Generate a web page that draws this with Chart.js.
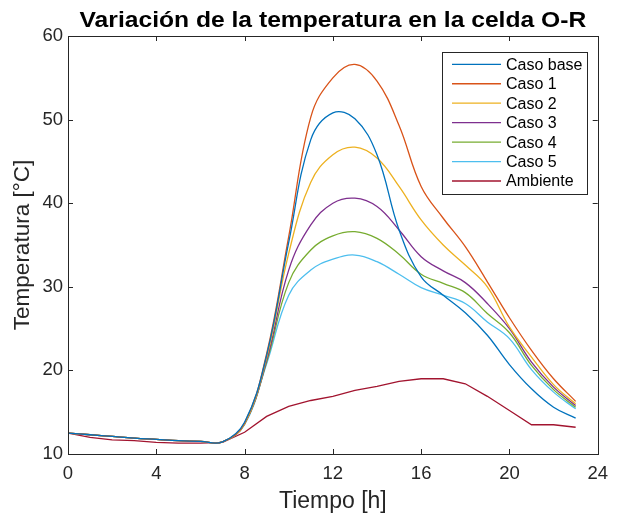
<!DOCTYPE html>
<html>
<head>
<meta charset="utf-8">
<title>Variación de la temperatura en la celda O-R</title>
<script src="https://cdn.jsdelivr.net/npm/chart.js@4.4.1/dist/chart.umd.min.js"></script>
<style>
  html, body { margin: 0; padding: 0; background: #fff; }
</style>
</head>
<body>
<canvas id="tempChart" width="617" height="520"></canvas>
<script>
// hourly temperatures [°C]
const hours = [0, 1, 2, 3, 4, 5, 6, 7, 8, 9, 10, 11, 12, 13, 14, 15, 16, 17, 18, 19, 20, 21, 22, 23];

const casoBase = [12.5, 12.3, 12.1, 11.9, 11.75, 11.6, 11.5, 11.45, 13.8, 21.8, 35.3, 47.6, 50.8, 50.1, 45.8, 36.8, 31.2, 29.0, 26.9, 24.2, 20.7, 17.8, 15.6, 14.3];
const caso1 = [12.5, 12.3, 12.1, 11.9, 11.75, 11.6, 11.5, 11.45, 13.7, 22.0, 36.0, 50.3, 55.0, 56.6, 54.6, 49.3, 42.0, 38.2, 34.8, 30.6, 26.3, 22.4, 19.0, 16.3];
const caso2 = [12.5, 12.3, 12.1, 11.9, 11.75, 11.6, 11.5, 11.45, 13.6, 21.5, 34.0, 42.5, 45.8, 46.7, 45.4, 42.0, 38.0, 35.0, 32.6, 30.0, 25.2, 21.6, 18.3, 16.0];
const caso3 = [12.5, 12.3, 12.1, 11.9, 11.75, 11.6, 11.5, 11.45, 13.6, 21.2, 32.0, 37.4, 40.0, 40.6, 39.6, 36.8, 33.6, 31.9, 30.5, 28.0, 25.0, 21.0, 18.0, 15.8];
const caso4 = [12.5, 12.3, 12.1, 11.9, 11.75, 11.6, 11.5, 11.45, 13.6, 21.0, 30.5, 34.4, 36.1, 36.6, 35.8, 33.9, 31.5, 30.4, 29.3, 26.8, 24.5, 20.6, 17.7, 15.6];
const caso5 = [12.5, 12.3, 12.1, 11.9, 11.75, 11.6, 11.5, 11.45, 13.5, 20.8, 29.0, 32.0, 33.3, 33.8, 33.0, 31.5, 29.9, 29.0, 28.0, 25.8, 23.8, 20.1, 17.4, 15.4];
const ambiente = [12.5, 12.0, 11.7, 11.6, 11.4, 11.3, 11.3, 11.4, 12.6, 14.5, 15.7, 16.4, 16.9, 17.6, 18.1, 18.7, 19.0, 19.0, 18.4, 16.9, 15.2, 13.5, 13.5, 13.2];

const seriesNames = ["Caso base", "Caso 1", "Caso 2", "Caso 3", "Caso 4", "Caso 5", "Ambiente"];
const seriesData = [casoBase, caso1, caso2, caso3, caso4, caso5, ambiente];
const seriesColors = ["#0072BD", "#D95319", "#EDB120", "#7E2F8E", "#77AC30", "#4DBEEE", "#A2142F"];

const xTicks = [0, 4, 8, 12, 16, 20, 24];
const yTicks = [10, 20, 30, 40, 50, 60];

const titleText = "Variación de la temperatura en la celda O-R";
const axisColor = "#262626";
const fontFamily = "'Liberation Sans', Arial, Helvetica, sans-serif";

// title, axes box with inward ticks on all four sides, and the legend box
const boxPlugin = {
  id: "boxPlugin",
  afterDraw(chart) {
    const { ctx, chartArea: a, scales } = chart;
    const tick = 5;
    ctx.save();

    ctx.fillStyle = "#000";
    ctx.font = "bold 22px " + fontFamily;
    ctx.textAlign = "center";
    ctx.textBaseline = "alphabetic";
    ctx.save();
    ctx.translate((a.left + a.right) / 2, 27);
    ctx.scale(1.12, 1);
    ctx.fillText(titleText, 0, 0);
    ctx.restore();

    ctx.strokeStyle = axisColor;
    ctx.lineWidth = 1;
    ctx.strokeRect(Math.round(a.left) + 0.5, Math.round(a.top) + 0.5,
      Math.round(a.right - a.left), Math.round(a.bottom - a.top));
    ctx.beginPath();
    xTicks.forEach((v) => {
      const x = Math.round(scales.x.getPixelForValue(v)) + 0.5;
      ctx.moveTo(x, a.bottom); ctx.lineTo(x, a.bottom - tick);
      ctx.moveTo(x, a.top); ctx.lineTo(x, a.top + tick);
    });
    yTicks.forEach((v) => {
      const y = Math.round(scales.y.getPixelForValue(v)) + 0.5;
      ctx.moveTo(a.left, y); ctx.lineTo(a.left + tick, y);
      ctx.moveTo(a.right, y); ctx.lineTo(a.right - tick, y);
    });
    ctx.stroke();

    // legend
    const lx = 442.5, ly = 52.5, lw = 145, lh = 142;
    ctx.fillStyle = "#fff";
    ctx.fillRect(lx, ly, lw, lh);
    ctx.strokeStyle = axisColor;
    ctx.strokeRect(lx, ly, lw, lh);
    ctx.font = "16px " + fontFamily;
    ctx.textAlign = "left";
    ctx.textBaseline = "middle";
    chart.data.datasets.forEach((ds, i) => {
      const y = 64.3 + i * 19.45;
      ctx.strokeStyle = ds.borderColor;
      ctx.lineWidth = 1.3;
      ctx.beginPath();
      ctx.moveTo(452, y); ctx.lineTo(501, y);
      ctx.stroke();
      ctx.fillStyle = "#000";
      ctx.fillText(ds.label, 506, y + 1);
    });
    ctx.restore();
  }
};

new Chart(document.getElementById("tempChart").getContext("2d"), {
  type: "line",
  data: {
    labels: hours,
    datasets: seriesNames.map((name, i) => ({
      label: name,
      data: seriesData[i],
      borderColor: seriesColors[i],
      backgroundColor: seriesColors[i],
      borderWidth: 1.3,
      pointRadius: 0,
      fill: false,
      tension: name === "Ambiente" ? 0 : 0.4,
    })),
  },
  options: {
    responsive: false,
    animation: false,
    devicePixelRatio: 1,
    layout: { padding: { left: 0, right: 16, top: 36, bottom: 0 } },
    plugins: {
      legend: { display: false },
      tooltip: { enabled: false },
      title: { display: false },
    },
    scales: {
      x: {
        type: "linear",
        min: 0,
        max: 24,
        grid: { display: false, drawTicks: false },
        border: { display: false },
        ticks: {
          stepSize: 4,
          padding: 9,
          color: axisColor,
          maxRotation: 0,
          font: { family: fontFamily, size: 18.5 },
        },
        title: {
          display: true,
          text: "Tiempo [h]",
          color: axisColor,
          font: { family: fontFamily, size: 23 },
          padding: { top: 0, bottom: 5 },
        },
        afterFit(scale) { scale.height = 66; },
      },
      y: {
        min: 10,
        max: 60,
        grid: { display: false, drawTicks: false },
        border: { display: false },
        ticks: {
          stepSize: 10,
          padding: 5,
          color: axisColor,
          font: { family: fontFamily, size: 18.5 },
        },
        title: {
          display: true,
          text: "Temperatura [°C]",
          color: axisColor,
          font: { family: fontFamily, size: 22.5 },
          padding: { top: 9, bottom: 0 },
        },
        afterFit(scale) {
          scale.width = 68;
          scale.paddingTop = 0;
          scale.paddingBottom = 0;
        },
      },
    },
  },
  plugins: [boxPlugin],
});
</script>
</body>
</html>
